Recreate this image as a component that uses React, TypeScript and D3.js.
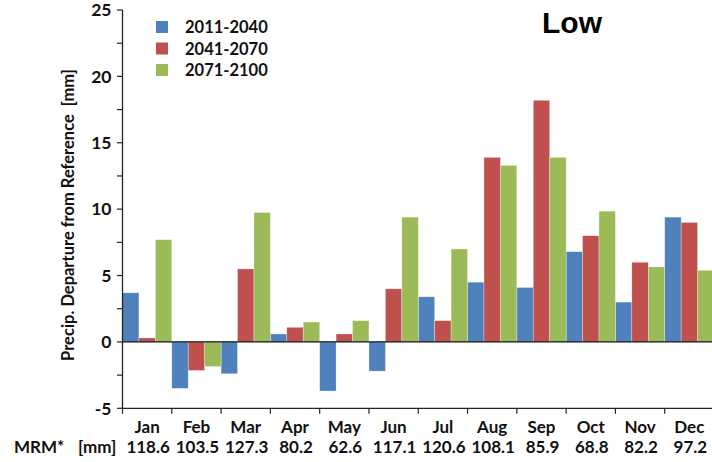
import React from "react";
import * as d3 from "d3";

const months = ["Jan", "Feb", "Mar", "Apr", "May", "Jun", "Jul", "Aug", "Sep", "Oct", "Nov", "Dec"];
const mrm = ["118.6", "103.5", "127.3", "80.2", "62.6", "117.1", "120.6", "108.1", "85.9", "68.8", "82.2", "97.2"];
const seriesNames = ["2011-2040", "2041-2070", "2071-2100"];
const s2011 = [3.7, -3.5, -2.4, 0.6, -3.7, -2.2, 3.4, 4.5, 4.1, 6.8, 3.0, 9.4];
const s2041 = [0.3, -2.15, 5.5, 1.1, 0.6, 4.0, 1.6, 13.9, 18.2, 8.0, 6.0, 9.0];
const s2071 = [7.7, -1.85, 9.75, 1.5, 1.6, 9.4, 7.0, 13.3, 13.9, 9.85, 5.65, 5.4];
const yTicks = [-5, 0, 5, 10, 15, 20, 25];
const colors = ["#4F81BD", "#C0504D", "#9BBB59"];

const W = 712, H = 462;
const left = 122.5, right = 714, top = 10, bottom = 408.3;
const font = "Lato, 'Open Sans', sans-serif";

export default function App() {
  const series = [s2011, s2041, s2071];
  const x = d3.scaleBand<string>().domain(months).range([left, right]).paddingInner(0).paddingOuter(0);
  const xs = d3.scaleBand<string>().domain(seriesNames).range([0, x.bandwidth()]).padding(0);
  const y = d3.scaleLinear().domain([-5, 25]).range([bottom, top]);
  const minor = d3.range(-5, 25.01, 2.5);

  return (
    <svg width={W} height={H} style={{ position: "absolute", left: 0, top: 0, display: "block" }} fontFamily={font}>
      <rect x={0} y={0} width={W} height={H} fill="#fff" />
      {series.map((vals, si) =>
        vals.map((v, mi) => {
          const bx = (x(months[mi]) as number) + (xs(seriesNames[si]) as number);
          const y0 = y(Math.max(0, v));
          const y1 = y(Math.min(0, v));
          return (
            <rect key={`${si}-${mi}`} x={bx} y={y0} width={xs.bandwidth()} height={y1 - y0}
              fill={colors[si]} stroke="#ffffff" strokeOpacity={0.5} strokeWidth={0.6} />
          );
        })
      )}
      <line x1={left} x2={right} y1={y(0)} y2={y(0)} stroke="#111" strokeWidth={1.3} />
      <line x1={left} x2={left} y1={top} y2={bottom} stroke="#222" strokeWidth={1.3} />
      {minor.map((t) => (
        <line key={t} x1={left - 5.5} x2={left} y1={y(t)} y2={y(t)} stroke="#222" strokeWidth={1.2} />
      ))}
      {yTicks.map((t) => (
        <text key={t} x={111.5} y={y(t) + 6.2} textAnchor="end" fontSize={17.5} fontWeight="bold" fill="#111">
          {t}
        </text>
      ))}
      <line x1={left} x2={right} y1={bottom} y2={bottom} stroke="#222" strokeWidth={1.3} />
      {months.map((m) => (
        <line key={m} x1={(x(m) as number)} x2={(x(m) as number)} y1={bottom} y2={bottom + 5.5} stroke="#222" strokeWidth={1.2} />
      ))}
      {months.map((m) => (
        <text key={m} x={(x(m) as number) + x.bandwidth() / 2} y={433} textAnchor="middle" fontSize={17} fontWeight="bold" fill="#111">
          {m}
        </text>
      ))}
      {mrm.map((v, i) => (
        <text key={i} x={(x(months[i]) as number) + x.bandwidth() / 2 + 1} y={452.5} textAnchor="middle" fontSize={17} fontWeight="bold" fill="#111">
          {v}
        </text>
      ))}
      <text x={14} y={452.5} fontSize={17} fontWeight="bold" fill="#111">MRM*</text>
      <text x={78} y={452.5} fontSize={17} fontWeight="bold" fill="#111">[mm]</text>
      <text transform={`translate(74,215) rotate(-90)`} textAnchor="middle" fontSize={16.5} fontWeight="bold" fill="#111">
        Precip. Departure from Reference{"\u00a0\u00a0"}[mm]
      </text>
      {seriesNames.map((s, i) => (
        <g key={s} transform={`translate(156,${21 + i * 21.5})`}>
          <rect x={0} y={0} width={12} height={12} fill={colors[i]} />
          <text x={29} y={12} fontSize={16.5} fontWeight="bold" fill="#111">{s}</text>
        </g>
      ))}
      <text x={572} y={33} textAnchor="middle" fontSize={30} fontWeight="bold" fontFamily="'Liberation Sans', Arial, sans-serif" fill="#000">
        Low
      </text>
    </svg>
  );
}
